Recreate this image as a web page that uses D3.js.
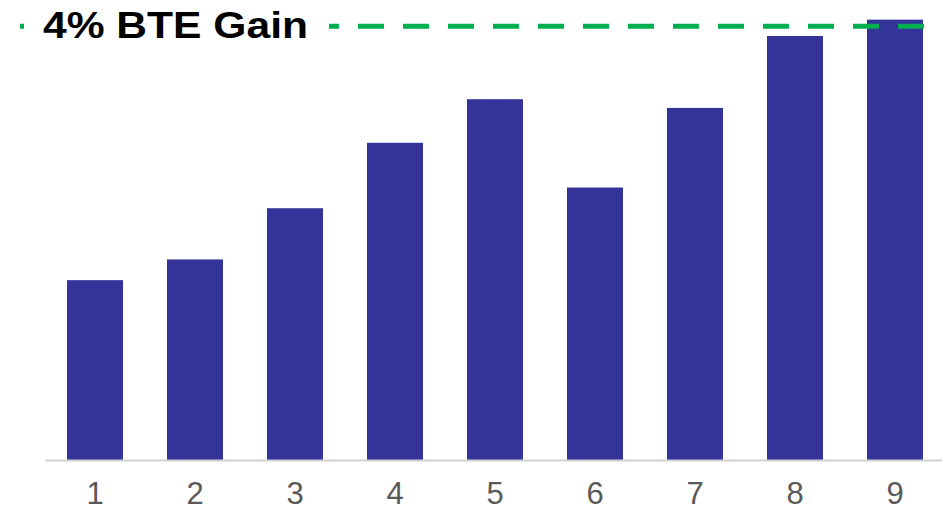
<!DOCTYPE html>
<html>
<head>
<meta charset="utf-8">
<script src="https://cdn.jsdelivr.net/npm/d3@7"></script>
<style>
  html, body { margin: 0; padding: 0; background: #fff; }
  svg { display: block; }
</style>
</head>
<body>
<div id="chart"></div>
<script>
// Chart data (BTE gain, % points)
const categories = ["1", "2", "3", "4", "5", "6", "7", "8", "9"];
const gains = [1.65, 1.84, 2.31, 2.91, 3.31, 2.50, 3.23, 3.89, 4.04];
const targetGain = 3.98;
const targetLabel = "4% BTE Gain";

const width = 942, height = 511;
const margins = { top: 24, right: -3, bottom: 51, left: 45 };

const svg = d3.select("#chart")
    .append("svg")
    .attr("width", width)
    .attr("height", height);

const x = d3.scaleBand()
    .domain(categories)
    .range([margins.left, width - margins.right])
    .paddingInner(0.44)
    .paddingOuter(0.22);

const y = d3.scaleLinear()
    .domain([0, 4])
    .range([height - margins.bottom, margins.top]);

// Bars
svg.append("g")
    .selectAll("rect")
    .data(gains)
    .join("rect")
    .attr("x", (d, i) => x(categories[i]))
    .attr("y", d => y(d))
    .attr("width", x.bandwidth())
    .attr("height", d => y(0) - y(d))
    .attr("fill", "#333399");

// X axis
const xAxis = svg.append("g")
    .attr("transform", `translate(0,${y(0)})`)
    .call(d3.axisBottom(x).tickSize(0).tickPadding(0));
xAxis.select(".domain")
    .attr("stroke", "#d0d0d0")
    .attr("stroke-width", 2);
xAxis.selectAll("text")
    .attr("dy", null)
    .attr("y", 44)
    .attr("fill", "#595959")
    .style("font-family", "Arial, 'Liberation Sans', sans-serif")
    .style("font-size", "31px");

// Target dashed line
svg.append("line")
    .attr("x1", 20)
    .attr("x2", width)
    .attr("y1", y(targetGain))
    .attr("y2", y(targetGain))
    .attr("stroke", "#00b050")
    .attr("stroke-width", 5)
    .attr("stroke-dasharray", "26,19")
    .attr("stroke-dashoffset", 22);

// Label with white background over the line
svg.append("rect")
    .attr("x", 26)
    .attr("y", 0)
    .attr("width", 303)
    .attr("height", 48)
    .attr("fill", "#fff");

svg.append("text")
    .attr("x", 43)
    .attr("y", 38)
    .attr("fill", "#000")
    .attr("textLength", 265)
    .attr("lengthAdjust", "spacingAndGlyphs")
    .style("font-family", "Arial, 'Liberation Sans', sans-serif")
    .style("font-weight", "bold")
    .style("font-size", "36px")
    .text(targetLabel);
</script>
</body>
</html>
